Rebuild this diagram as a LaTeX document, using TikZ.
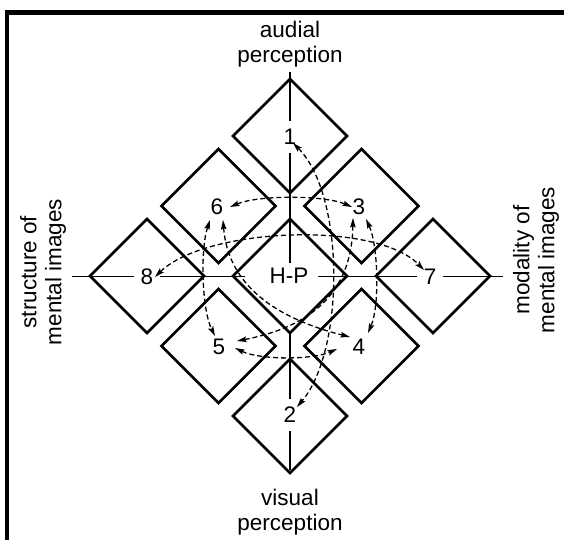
\documentclass[tikz,border=0pt]{standalone}
\usepackage{fontspec}
\setmainfont{Liberation Sans}
\usetikzlibrary{arrows.meta,shapes.geometric}
\begin{document}
\begin{tikzpicture}[x=1pt,y=-1pt,
  box/.style={draw,line width=2.6pt,shape=diamond,shape aspect=1,minimum width=114pt,minimum height=114pt,inner sep=0pt,outer sep=0pt},
  lbl/.style={font=\fontsize{22.5}{25}\selectfont,inner xsep=6.5pt,inner ysep=8pt},
  axis/.style={line width=1.8pt},
  tipx/.tip={Stealth[length=9.5pt,width=5.5pt,inset=1.5pt]},
  dar/.style={line width=1.3pt,dash pattern=on 5pt off 3pt,tipx-tipx},
  txt/.style={font=\fontsize{22.5}{25}\selectfont,align=center,inner sep=0pt}]
\useasboundingbox (0,0) rectangle (564,540);
% frame
\draw[line width=4.5pt] (7,540) -- (7,12.5) -- (564,12.5);
% diamonds
\node[box] (d1) at (290,136) {};
\node[box] (d2) at (290,416) {};
\node[box] (dhp) at (290,276) {};
\node[box] (d6) at (218.5,206) {};
\node[box] (d3) at (361.5,206) {};
\node[box] (d5) at (218.5,346) {};
\node[box] (d4) at (361.5,346) {};
\node[box] (d8) at (147,276) {};
\node[box] (d7) at (433,276) {};
% labels
\node[lbl] (n1) at (290,137) {1};
\node[lbl] (n2) at (290,415) {2};
\node[lbl] (n3) at (359,207) {3};
\node[lbl] (n4) at (359,347) {4};
\node[lbl] (n5) at (219,347) {5};
\node[lbl] (n6) at (217,207) {6};
\node[lbl] (n7) at (430,276.5) {7};
\node[lbl] (n8) at (147,276.5) {8};
\node[txt] (hp) at (289,276) {H-P};
% outer texts
\node[txt] (top) at (290,44) {audial\\perception};
\node[txt] (bot) at (290,512) {visual\\perception};
\node[txt,rotate=90] (lft) at (43,272) {structure of\\mental images};
\node[txt,rotate=90] (rgt) at (536,260) {modality of\\mental images};
% axes
\coordinate (tE) at (290,72);
\coordinate (hpT) at (290,263);
\coordinate (bE) at (290,470);
\coordinate (lE) at (72,276.5);
\coordinate (hpL) at (245,276.5);
\coordinate (hpR) at (318,276.5);
\coordinate (rE) at (503,276.5);
\draw[axis] (tE) -- (n1);
\draw[axis] (n1) -- (hpT);
\draw[axis] (dhp.south) -- (n2);
\draw[axis] (n2) -- (bE);
\draw[axis] (lE) -- (n8);
\draw[axis] (n8) -- (hpL);
\draw[axis] (hpR) -- (n7);
\draw[axis] (n7) -- (rE);
% dashed connectors
\draw[dar] ([shift={(3,6)}]n1.center) .. controls +(52,52) and +(48,-57) .. ([shift={(7,-8)}]n2.center);
\draw[dar] ([shift={(13,0)}]n6.center) .. controls +(28,-12) and +(-28,-12) .. ([shift={(-7,0)}]n3.center);
\draw[dar] ([shift={(16,1)}]n5.center) .. controls +(25,12) and +(-25,11) .. ([shift={(-22,2)}]n4.center);
\draw[dar] ([shift={(-7,13)}]n6.center) .. controls +(-10,30) and +(-13,-26) .. ([shift={(-4,-11)}]n5.center);
\draw[dar] ([shift={(7,12)}]n3.center) .. controls +(12,26) and +(12,-28) .. ([shift={(9,-14)}]n4.center);
\draw[dar] ([shift={(6,13)}]n6.center) .. controls +(5,65) and +(-75,-19) .. ([shift={(-9,-10)}]n4.center);
\draw[dar] ([shift={(-6,11)}]n3.center) .. controls +(-1,67) and +(83,-16) .. ([shift={(18,-6)}]n5.center);
\draw[dar] ([shift={(8,0.5)}]n8.center) .. controls +(50,-49) and +(-49,-50) .. ([shift={(-6,-6.5)}]n7.center);
\end{tikzpicture}
\end{document}
